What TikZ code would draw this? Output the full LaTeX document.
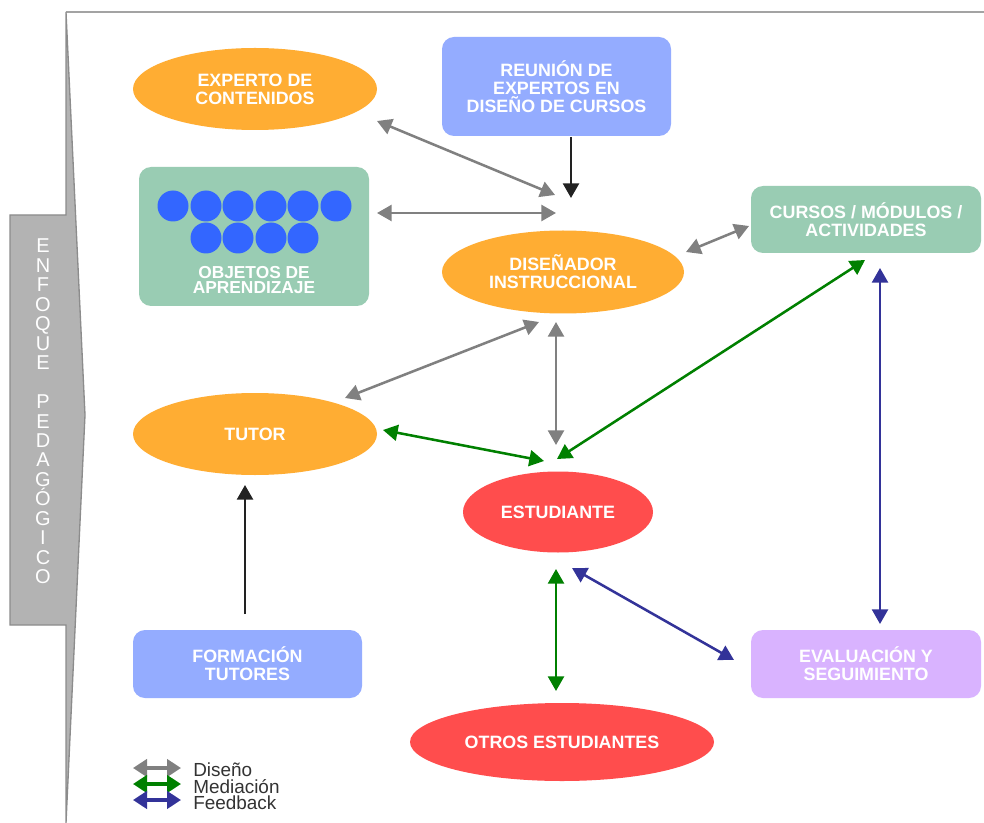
\documentclass[tikz,border=0pt]{standalone}
\usepackage{fontspec}
\setmainfont{Liberation Sans}
\usetikzlibrary{shapes.geometric,arrows.meta}
\newlength\pxu \setlength\pxu{0.75pt}
\definecolor{orangeA}{HTML}{FFAD33}
\definecolor{blueA}{HTML}{94ACFF}
\definecolor{greenA}{HTML}{99CCB3}
\definecolor{purpleA}{HTML}{D9B3FF}
\definecolor{redA}{HTML}{FF4D4D}
\definecolor{dotblue}{HTML}{3366FF}
\definecolor{sidegray}{HTML}{B3B3B3}
\definecolor{sideline}{HTML}{8C8C8C}
\definecolor{arrgray}{HTML}{808080}
\definecolor{arrgreen}{HTML}{008000}
\definecolor{arrblue}{HTML}{333399}
\definecolor{arrblack}{HTML}{222222}
\definecolor{legtext}{HTML}{333333}
\tikzset{
  lbl/.style={text=white, font=\fontsize{13.4}{13.5}\selectfont\bfseries, align=center, inner sep=0pt},
  ell/.style={lbl, shape=ellipse, draw=none},
  rbox/.style={lbl, shape=rectangle, rounded corners=9pt, draw=none},
  dot/.style={circle, fill=dotblue, minimum size=31\pxu, inner sep=0pt},
  dbl/.style={line width=1.9pt, {Triangle[length=11pt,width=12pt]}-{Triangle[length=11pt,width=12pt]}},
  sgl/.style={line width=1.9pt, -{Triangle[length=11pt,width=12pt]}},
  leg/.style={line width=2.4pt, {Triangle[length=10.5pt,width=13pt]}-{Triangle[length=10.5pt,width=13pt]}}
}
\begin{document}
\begin{tikzpicture}[x=0.75pt,y=-0.75pt]
\useasboundingbox (0,0) rectangle (984,823);
\fill[white] (0,0) rectangle (984,823);
% frame and side arrow
\draw[sideline!80, line width=1.5pt] (66,12) -- (984,12);
\draw[fill=sidegray, draw=sideline, line width=1pt] (10,215) -- (66,215) -- (66,12) -- (85,415) -- (66,823) -- (66,625) -- (10,625) -- cycle;
\node[text=white, font=\fontsize{15}{14.6}\selectfont, align=center, inner sep=0pt] (side) at (43,411.5)
  {E\\N\\F\\O\\Q\\U\\E\\[14.6pt]P\\E\\D\\A\\G\\Ó\\G\\I\\C\\O};
% nodes
\node[ell, fill=orangeA, minimum width=244\pxu, minimum height=82\pxu] (exp) at (255,89) {EXPERTO DE\\CONTENIDOS};
\node[rbox, fill=blueA, minimum width=229\pxu, minimum height=99\pxu] (reu) at (556.5,86.5) {REUNIÓN DE\\EXPERTOS EN\\DISEÑO DE CURSOS};
\node[rbox, fill=greenA, minimum width=230\pxu, minimum height=139\pxu] (obj) at (254,236.5) {};
\foreach \i/\x in {1/173,2/206,3/238,4/271,5/303,6/336} \node[dot] (d\i) at (\x,206) {};
\foreach \i/\x in {7/206,8/238,9/271,10/303} \node[dot] (d\i) at (\x,238) {};
\node[lbl, font=\fontsize{13}{10.6}\selectfont\bfseries] (objt) at (254,280) {OBJETOS DE\\APRENDIZAJE};
\node[ell, fill=orangeA, minimum width=242\pxu, minimum height=83\pxu] (dis) at (563,272) {DISEÑADOR\\INSTRUCCIONAL};
\node[rbox, fill=greenA, minimum width=230\pxu, minimum height=67\pxu] (cur) at (866,219.5) {CURSOS / MÓDULOS /\\ACTIVIDADES};
\node[ell, fill=orangeA, minimum width=244\pxu, minimum height=82\pxu] (tut) at (255,434) {TUTOR};
\node[ell, fill=redA, minimum width=190\pxu, minimum height=81\pxu] (est) at (558,512) {ESTUDIANTE};
\node[rbox, fill=blueA, minimum width=229\pxu, minimum height=68\pxu] (for) at (247.5,664) {FORMACIÓN\\TUTORES};
\node[rbox, fill=purpleA, minimum width=230\pxu, minimum height=68\pxu] (eva) at (866,664) {EVALUACIÓN Y\\SEGUIMIENTO};
\node[ell, fill=redA, minimum width=304\pxu, minimum height=78\pxu] (otr) at (562,742) {OTROS ESTUDIANTES};
% connector end points
\coordinate (c1a) at (377,121); \coordinate (c1b) at (555,195);
\coordinate (c2a) at (377,213); \coordinate (c2b) at (556,213);
\coordinate (c3a) at (571,137); \coordinate (c3b) at (571,198);
\coordinate (c4a) at (686,252); \coordinate (c4b) at (749,226);
\coordinate (c5a) at (539,322); \coordinate (c5b) at (345,398);
\coordinate (c6a) at (556,322); \coordinate (c6b) at (556,445);
\coordinate (c7a) at (383,430); \coordinate (c7b) at (544,461);
\coordinate (c8a) at (557,459); \coordinate (c8b) at (865,260);
\coordinate (c9a) at (880,268); \coordinate (c9b) at (880,624);
\coordinate (c10a) at (556,569); \coordinate (c10b) at (556,691);
\coordinate (c11a) at (572,568); \coordinate (c11b) at (734,660);
\coordinate (c12a) at (245,614); \coordinate (c12b) at (245,485);
% connectors
\draw[dbl, arrgray] (c1a) -- (c1b);
\draw[dbl, arrgray] (c2a) -- (c2b);
\draw[sgl, arrblack] (c3a) -- (c3b);
\draw[dbl, arrgray] (c4a) -- (c4b);
\draw[dbl, arrgray] (c5a) -- (c5b);
\draw[dbl, arrgray] (c6a) -- (c6b);
\draw[dbl, arrgreen] (c7a) -- (c7b);
\draw[dbl, arrgreen] (c8a) -- (c8b);
\draw[dbl, arrblue] (c9a) -- (c9b);
\draw[dbl, arrgreen] (c10a) -- (c10b);
\draw[dbl, arrblue] (c11a) -- (c11b);
\draw[sgl, arrblack] (c12a) -- (c12b);
% legend
\coordinate (l1a) at (133,768); \coordinate (l1b) at (181,768);
\coordinate (l2a) at (133,784); \coordinate (l2b) at (181,784);
\coordinate (l3a) at (133,800); \coordinate (l3b) at (181,800);
\draw[leg, arrgray] (l1a) -- (l1b);
\draw[leg, arrgreen] (l2a) -- (l2b);
\draw[leg, arrblue] (l3a) -- (l3b);
\node[anchor=west, align=left, inner sep=0pt, text=legtext, font=\fontsize{14.2}{12.5}\selectfont] (legt) at (193,786.5) {Diseño\\Mediación\\Feedback};
\end{tikzpicture}
\end{document}
